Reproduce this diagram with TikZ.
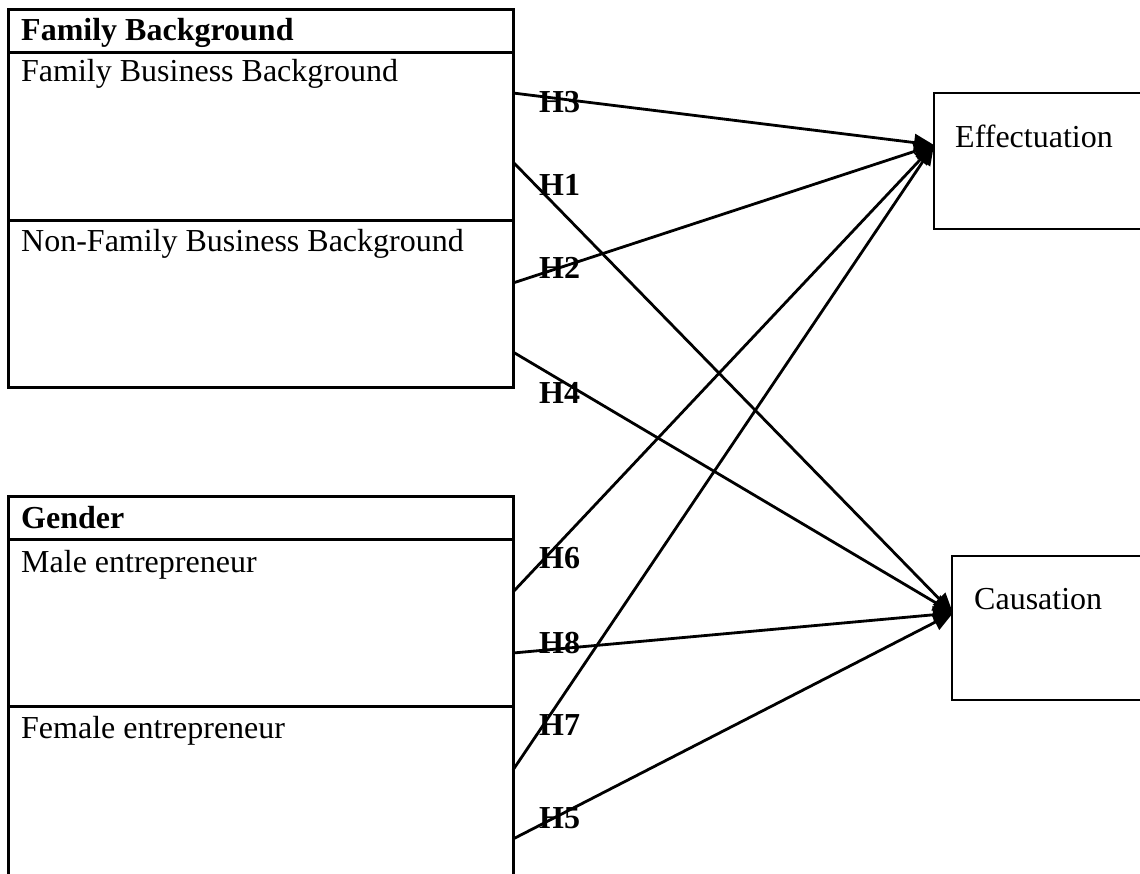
\documentclass[tikz,border=0pt]{standalone}
\usepackage{fontspec}
\setmainfont{Liberation Serif}
\usetikzlibrary{arrows.meta,positioning}

\begin{document}
\begin{tikzpicture}[x=1pt,y=-1pt]
	\tikzstyle{every node}=[font=\fontsize{32}{38}\selectfont, inner sep=0pt]
	\tikzstyle{frame}=[line width=3pt]
	\tikzstyle{hyp}=[line width=2.8pt, -{Triangle[length=20pt,width=17pt]}]
	\tikzstyle{hlabel}=[anchor=base west, font=\fontsize{32}{38}\selectfont\bfseries]
	\useasboundingbox (0,0) rectangle (1140,873);
	% left boxes
	\draw [frame] (8,9) rectangle (513,387);
	\draw [frame] (8,52) -- (513,52);
	\draw [frame] (8,220) -- (513,220);
	\draw [frame] (8,890) -- (8,496) -- (513,496) -- (513,890);
	\draw [frame] (8,539) -- (513,539);
	\draw [frame] (8,706) -- (513,706);
	\node [anchor=base west] (fam) at (21,40) {\textbf{Family Background}};
	\node [anchor=base west] (fbb) at (21,81) {Family Business Background};
	\node [anchor=base west] (nfbb) at (21,251) {Non-Family Business Background};
	\node [anchor=base west] (gen) at (21,528) {\textbf{Gender}};
	\node [anchor=base west] (male) at (21,572) {Male entrepreneur};
	\node [anchor=base west] (female) at (21,738) {Female entrepreneur};
	% right boxes
	\draw [line width=2.6pt] (1150,93) -- (934,93) -- (934,229) -- (1150,229);
	\draw [line width=2.6pt] (1150,556) -- (952,556) -- (952,700) -- (1150,700);
	\node [anchor=base west] (eff) at (955,147) {Effectuation};
	\node [anchor=base west] (caus) at (974,609) {Causation};
	\coordinate (effin) at (934,145);
	\coordinate (causin) at (953,613);
	% arrow starts
	\coordinate (s3) at (513,93);
	\coordinate (s1) at (513,162);
	\coordinate (s2) at (513,283);
	\coordinate (s4) at (513,352);
	\coordinate (s6) at (513,592);
	\coordinate (s8) at (513,653);
	\coordinate (s7) at (513,770);
	\coordinate (s5) at (513,839);
	\draw [hyp] (s3) -- (effin);
	\draw [hyp] (s2) -- (effin);
	\draw [hyp] (s6) -- (effin);
	\draw [hyp] (s7) -- (effin);
	\draw [hyp] (s1) -- (causin);
	\draw [hyp] (s4) -- (causin);
	\draw [hyp] (s8) -- (causin);
	\draw [hyp] (s5) -- (causin);
	% labels
	\node [hlabel] (h3) at (539,112) {H3};
	\node [hlabel] (h1) at (539,195) {H1};
	\node [hlabel] (h2) at (539,278) {H2};
	\node [hlabel] (h4) at (539,403) {H4};
	\node [hlabel] (h6) at (539,568) {H6};
	\node [hlabel] (h8) at (539,653) {H8};
	\node [hlabel] (h7) at (539,735) {H7};
	\node [hlabel] (h5) at (539,828) {H5};
\end{tikzpicture}
\end{document}
